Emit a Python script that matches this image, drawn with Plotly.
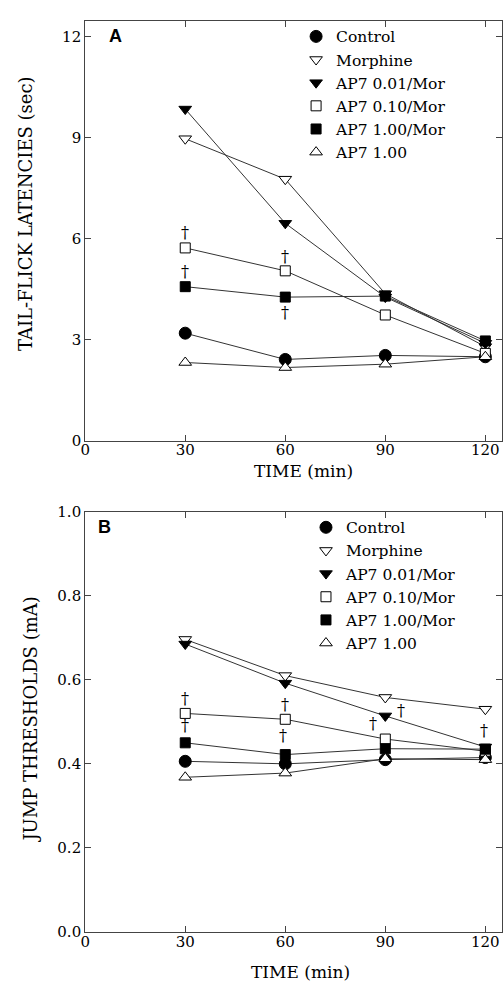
import plotly.graph_objects as go

time = [30, 60, 90, 120]
groups = ["Control", "Morphine", "AP7 0.01/Mor", "AP7 0.10/Mor", "AP7 1.00/Mor", "AP7 1.00"]

# Panel A: tail-flick latencies (sec)
tf_control = [3.2, 2.42, 2.54, 2.5]
tf_morphine = [8.97, 7.77, 4.37, 2.8]
tf_ap7_001 = [9.85, 6.46, 4.27, 2.9]
tf_ap7_010 = [5.73, 5.05, 3.74, 2.6]
tf_ap7_100m = [4.58, 4.27, 4.3, 2.97]
tf_ap7_100 = [2.33, 2.18, 2.28, 2.5]

# Panel B: jump thresholds (mA)
jt_control = [0.406, 0.40, 0.41, 0.415]
jt_morphine = [0.696, 0.61, 0.558, 0.53]
jt_ap7_001 = [0.685, 0.592, 0.514, 0.44]
jt_ap7_010 = [0.52, 0.506, 0.459, 0.43]
jt_ap7_100m = [0.45, 0.422, 0.436, 0.435]
jt_ap7_100 = [0.368, 0.378, 0.412, 0.41]

# significance daggers (time, value)
dag_a_x = [30, 30, 60, 60]
dag_a_y = [6.2, 5.04, 5.48, 3.8]
dag_b_x = [30, 30, 60, 59.3, 86.4, 94.7, 119.7]
dag_b_y = [0.556, 0.491, 0.542, 0.467, 0.495, 0.526, 0.479]

tick_a = [0, 3, 6, 9, 12]
tick_b = [0.0, 0.2, 0.4, 0.6, 0.8, 1.0]
tick_x = [0, 30, 60, 90, 120]

styles = [
    dict(symbol="circle", color="black", size=12),
    dict(symbol="triangle-down", color="white", size=11),
    dict(symbol="triangle-down", color="black", size=11),
    dict(symbol="square", color="white", size=10),
    dict(symbol="square", color="black", size=10),
    dict(symbol="triangle-up", color="white", size=11),
]

SERIF = "DejaVu Serif"
fig = go.Figure()

def add_panel(values, xa, ya, legend):
    for name, vals in zip(groups, values):
        fig.add_trace(go.Scatter(
            x=time, y=vals, mode="lines", showlegend=False, hoverinfo="skip",
            xaxis=xa, yaxis=ya, line=dict(color="#333333", width=1),
        ))
    for name, vals, st in zip(groups, values, styles):
        fig.add_trace(go.Scatter(
            x=time, y=vals, name=name, mode="markers",
            xaxis=xa, yaxis=ya, legend=legend,
            marker=dict(symbol=st["symbol"], color=st["color"], size=st["size"],
                        line=dict(color="black", width=1)),
        ))

add_panel([tf_control, tf_morphine, tf_ap7_001, tf_ap7_010, tf_ap7_100m, tf_ap7_100], "x", "y", "legend")
add_panel([jt_control, jt_morphine, jt_ap7_001, jt_ap7_010, jt_ap7_100m, jt_ap7_100], "x2", "y2", "legend2")

dag_font = dict(family=SERIF, size=16, color="black")
annotations = []
for x, y in zip(dag_a_x, dag_a_y):
    annotations.append(dict(x=x, y=y, xref="x", yref="y", text="†", showarrow=False,
                            xanchor="center", yanchor="middle", font=dag_font))
for x, y in zip(dag_b_x, dag_b_y):
    annotations.append(dict(x=x, y=y, xref="x2", yref="y2", text="†", showarrow=False,
                            xanchor="center", yanchor="middle", font=dag_font))

def paper_text(px, py, text, font, angle=0):
    return dict(x=px / 504, y=1 - py / 991, xref="paper", yref="paper", text=text,
                showarrow=False, xanchor="center", yanchor="middle", textangle=angle, font=font)

title_font = dict(family=SERIF, size=18, color="black")
xtitle_font = dict(family=SERIF, size=17, color="black")
letter_font = dict(family="Liberation Sans", size=18, color="black")
annotations += [
    paper_text(112, 28, "<b>A</b>", letter_font),
    paper_text(100, 528, "<b>B</b>", letter_font),
    paper_text(301, 471, "TIME (min)", xtitle_font),
    paper_text(298, 981, "TIME (min)", xtitle_font),
    paper_text(20, 208, "TAIL-FLICK LATENCIES (sec)", title_font, -90),
    paper_text(26, 724, "JUMP THRESHOLDS (mA)", title_font, -90),
]

axis_common = dict(showline=True, linecolor="#444444", linewidth=1, mirror="ticks",
                   ticks="inside", ticklen=6, tickcolor="#444444", showgrid=False, zeroline=False,
                   tickfont=dict(family=SERIF, size=15, color="black"))

xdom = [81 / 504, 502 / 504]
leg_font = dict(family=SERIF, size=15.5, color="black")
fig.update_layout(
    width=504, height=991,
    margin=dict(l=0, r=0, t=0, b=0),
    paper_bgcolor="white", plot_bgcolor="white",
    showlegend=True,
    xaxis=dict(domain=xdom, range=[0, 125], tickvals=tick_x, anchor="y", ticklabelstandoff=-5, **axis_common),
    yaxis=dict(domain=[1 - 440 / 991, 1 - 12 / 991], range=[0, 12.47], tickvals=tick_a, anchor="x", **axis_common),
    xaxis2=dict(domain=xdom, range=[0, 125], tickvals=tick_x, anchor="y2", ticklabelstandoff=-4, **axis_common),
    yaxis2=dict(domain=[1 - 940 / 991, 1 - 512 / 991], range=[0, 1.0], tickvals=tick_b,
                tickformat=".1f", anchor="x2", **axis_common),
    legend=dict(x=294 / 504, y=1 - 11 / 991, xanchor="left", yanchor="top",
                bgcolor="rgba(0,0,0,0)", font=leg_font),
    legend2=dict(x=304 / 504, y=1 - 511 / 991, xanchor="left", yanchor="top",
                 bgcolor="rgba(0,0,0,0)", font=leg_font),
    annotations=annotations,
)

fig.write_html("out.html")
